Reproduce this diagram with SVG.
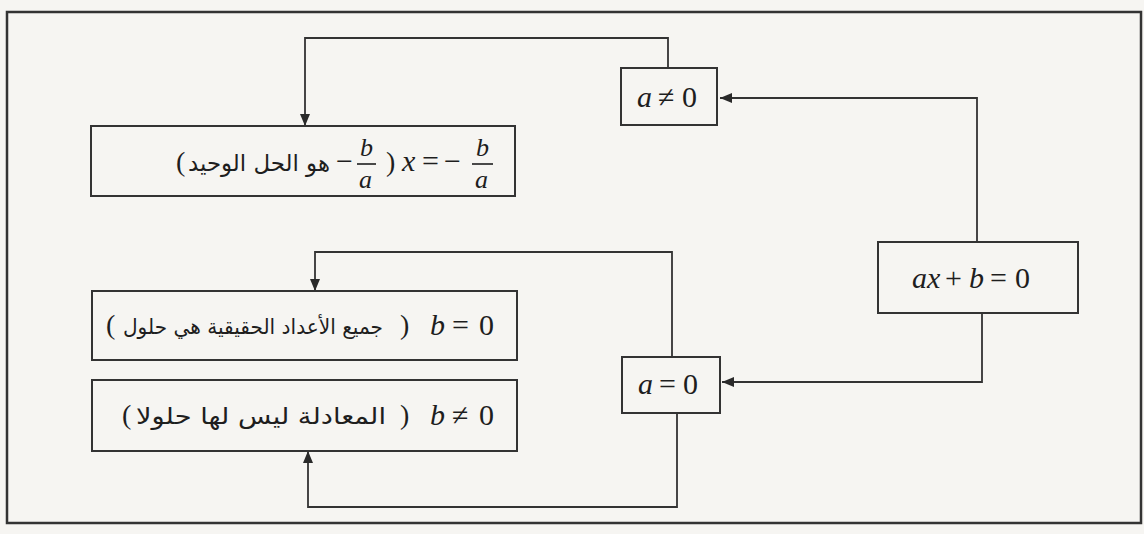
<svg xmlns="http://www.w3.org/2000/svg" width="1144" height="534" viewBox="0 0 1144 534">
<defs>
<marker id="ah" viewBox="0 0 12 10" refX="12" refY="5" markerWidth="12" markerHeight="10" markerUnits="userSpaceOnUse" orient="auto">
<path d="M0,0 L12,5 L0,10 z" fill="#2a2a2a"/>
</marker>
<style>
.box{fill:none;stroke:#333;stroke-width:2}
.frame{fill:none;stroke:#333;stroke-width:2.5}
.con{fill:none;stroke:#333;stroke-width:1.8;marker-end:url(#ah)}
.m{font-family:"Liberation Serif","DejaVu Serif",serif;font-size:30px;fill:#1e1e1e}
.mi{font-style:italic}
.f{font-family:"Liberation Serif","DejaVu Serif",serif;font-size:26px;font-style:italic;fill:#1e1e1e}
.ar{font-family:"DejaVu Sans","Noto Sans",sans-serif;font-size:23px;fill:#1e1e1e}
.ar2{font-size:21px}
.p{font-family:"Liberation Serif","DejaVu Serif",serif;font-size:28px;fill:#1e1e1e;direction:ltr;unicode-bidi:bidi-override}
.bar{stroke:#1e1e1e;stroke-width:1.6}
</style>
</defs>
<rect x="0" y="0" width="1144" height="534" fill="#f6f5f2"/>
<rect class="frame" x="7" y="12" width="1134" height="511"/>

<g id="connectors">
<polyline class="con" points="977,242 977,98 720,98"/>
<polyline class="con" points="982,313 982,382 722,382"/>
<polyline class="con" points="668,68 668,38 305,38 305,126"/>
<polyline class="con" points="672,357 672,252 315,252 315,291"/>
<polyline class="con" points="677,413 677,507 308,507 308,451"/>
</g>

<g id="n-eq">
<rect class="box" x="878" y="242" width="200" height="71"/>
<text class="m" y="288"><tspan class="mi" x="912">ax</tspan><tspan x="945">+</tspan><tspan class="mi" x="969">b</tspan><tspan x="990">=</tspan><tspan x="1015">0</tspan></text>
</g>

<g id="n-aneq">
<rect class="box" x="621" y="68" width="96" height="57"/>
<text class="m" y="107"><tspan class="mi" x="637">a</tspan><tspan x="658">≠</tspan><tspan x="682">0</tspan></text>
</g>

<g id="n-aeq">
<rect class="box" x="622" y="357" width="98" height="56"/>
<text class="m" y="394"><tspan class="mi" x="638">a</tspan><tspan x="659">=</tspan><tspan x="683">0</tspan></text>
</g>

<g id="n-unique">
<rect class="box" x="91" y="126" width="424" height="70"/>
<text class="p" x="176" y="171">(</text>
<text class="ar" x="259" y="171" text-anchor="middle" textLength="142" lengthAdjust="spacingAndGlyphs">هو الحل الوحيد</text>
<text class="m" x="336" y="171">−</text>
<text class="f" x="360" y="156">b</text>
<line class="bar" x1="357" y1="164" x2="376" y2="164"/>
<text class="f" x="359" y="188">a</text>
<text class="p" x="386" y="171">)</text>
<text class="m mi" x="402" y="171">x</text>
<text class="m" x="422" y="171">=</text>
<text class="m" x="444" y="171">−</text>
<text class="f" x="476" y="156">b</text>
<line class="bar" x1="472" y1="164" x2="493" y2="164"/>
<text class="f" x="475" y="188">a</text>
</g>

<g id="n-all">
<rect class="box" x="92" y="291" width="425" height="69"/>
<text class="p" x="106" y="334">(</text>
<text class="ar ar2" x="253" y="334" text-anchor="middle" textLength="260" lengthAdjust="spacingAndGlyphs">جميع الأعداد الحقيقية هي حلول</text>
<text class="p" x="400" y="334">)</text>
<text class="m" y="335"><tspan class="mi" x="430">b</tspan><tspan x="452">=</tspan><tspan x="479">0</tspan></text>
</g>

<g id="n-none">
<rect class="box" x="92" y="380" width="425" height="71"/>
<text class="p" x="122" y="424">(</text>
<text class="ar" x="261" y="424" text-anchor="middle" textLength="250" lengthAdjust="spacingAndGlyphs">المعادلة ليس لها حلولا</text>
<text class="p" x="400" y="424">)</text>
<text class="m" y="425"><tspan class="mi" x="430">b</tspan><tspan x="452">≠</tspan><tspan x="479">0</tspan></text>
</g>
</svg>
